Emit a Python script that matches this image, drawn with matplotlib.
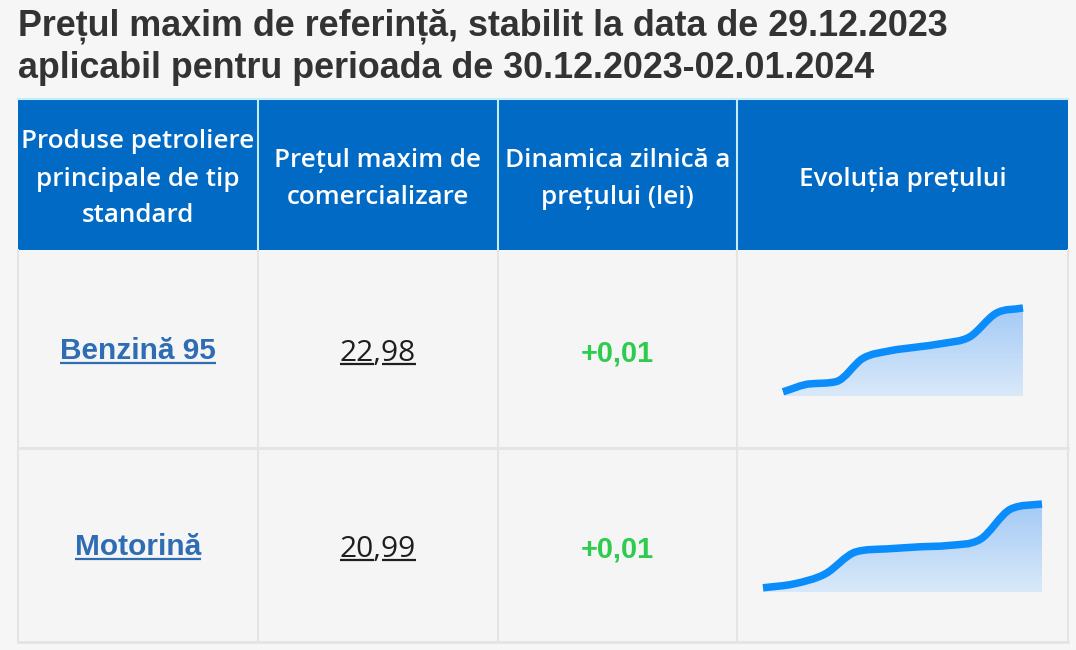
import numpy as np
import matplotlib
matplotlib.use("Agg")
import matplotlib.pyplot as plt
from matplotlib.path import Path
from matplotlib.patches import PathPatch, Rectangle
from matplotlib.colors import LinearSegmentedColormap

# ---- data ----
title_lines = ["Prețul maxim de referință, stabilit la data de 29.12.2023",
               "aplicabil pentru perioada de 30.12.2023-02.01.2024"]
headers = [["Produse petroliere", "principale de tip", "standard"],
           ["Prețul maxim de", "comercializare"],
           ["Dinamica zilnică a", "prețului (lei)"],
           ["Evoluția prețului"]]
products = ["Benzină 95", "Motorină"]
prices = ["22,98", "20,99"]
changes = ["+0,01", "+0,01"]
# price history, estimated from the sparklines
benzina_hist = [22.800, 22.817, 22.822, 22.872, 22.888, 22.896, 22.904, 22.918, 22.969, 22.980]
motorina_hist = [20.820, 20.828, 20.848, 20.893, 20.899, 20.903, 20.906, 20.918, 20.980, 20.990]
histories = [benzina_hist, motorina_hist]

# ---- layout (pixels) ----
W, H = 1076, 650
col_x = [18, 258, 498, 737, 1068]
row_y = [99, 250, 448, 642]
spark_boxes = [(783, 1023, 308, 396), (763, 1042, 504, 592)]  # left, right, top, bottom

BLUE_HEAD = "#006ac4"
HEAD_LINE = "#c6ecfa"
CELL_BG = "#f5f5f5"
GRID = "#e4e4e4"
LINK = "#2e6db4"
GREEN = "#2dcb4e"
LINE_BLUE = "#0a8cfb"

fig = plt.figure(figsize=(W / 100, H / 100), dpi=100)
fig.patch.set_facecolor("#f6f6f6")
ax = fig.add_axes([0, 0, 1, 1])
ax.set_xlim(0, W)
ax.set_ylim(H, 0)
ax.axis("off")
fig.canvas.draw()
renderer = fig.canvas.get_renderer()


def text_width(s, size, **kw):
    t = ax.text(0, 0, s, fontsize=size, **kw)
    w = t.get_window_extent(renderer).width
    t.remove()
    return w


def fit_size(s, target, **kw):
    return 20 * target / text_width(s, 20, **kw)


# title
title_kw = dict(family="Liberation Sans", weight="bold", color="#333333")
ts = fit_size(title_lines[0], 932, **title_kw)
for line, yb in zip(title_lines, [36, 78]):
    ax.text(18, yb, line, fontsize=ts, ha="left", va="baseline", **title_kw)

# header cells
ax.add_patch(Rectangle((col_x[0], row_y[0]), col_x[-1] - col_x[0], row_y[1] - row_y[0],
                       facecolor=BLUE_HEAD, edgecolor="none"))
for x in col_x[1:-1]:
    ax.plot([x, x], [row_y[0], row_y[1]], color=HEAD_LINE, lw=1.5)
ax.plot([col_x[0], col_x[-1]], [row_y[0], row_y[0]], color=HEAD_LINE, lw=1.5)

head_kw = dict(family=["Open Sans SemiBold", "Open Sans"], weight="semibold", color="white")
hs = fit_size("Produse petroliere", 232, **head_kw)
for i, lines in enumerate(headers):
    cx = (col_x[i] + col_x[i + 1]) / 2
    n = len(lines)
    for k, line in enumerate(lines):
        yb = 176 + (k - (n - 1) / 2) * 37 + 9.5
        ax.text(cx, yb, line, fontsize=hs, ha="center", va="baseline", **head_kw)

# body cells and grid
ax.add_patch(Rectangle((col_x[0], row_y[1]), col_x[-1] - col_x[0], row_y[-1] - row_y[1],
                       facecolor=CELL_BG, edgecolor="none"))
for x in col_x:
    ax.plot([x, x], [row_y[1], row_y[-1]], color=GRID, lw=1.5)
for y in row_y[2:]:
    ax.plot([col_x[0], col_x[-1]], [y, y], color=GRID, lw=2)

link_kw = dict(family="Liberation Sans", weight="bold", color=LINK)
num_kw = dict(family="Open Sans", color="#1e1e1e")
chg_kw = dict(family="Liberation Sans", weight="bold", color=GREEN)
ls = fit_size("Benzină 95", 156, **link_kw)
ns = fit_size("22,98", 76, **num_kw)
cs = fit_size("+0,01", 73, **chg_kw)


def smooth_path(x, y):
    # cubic bezier through the points, tangents limited so the curve stays monotone
    x = np.asarray(x, float)
    y = np.asarray(y, float)
    h = np.diff(x)
    d = np.diff(y) / h
    m = np.zeros_like(y)
    m[0], m[-1] = d[0], d[-1]
    m[1:-1] = (d[:-1] + d[1:]) / 2
    for i in range(len(d)):
        if d[i] == 0:
            m[i] = m[i + 1] = 0
            continue
        a, b = m[i] / d[i], m[i + 1] / d[i]
        s = a * a + b * b
        if s > 9:
            tau = 3 / np.sqrt(s)
            m[i], m[i + 1] = tau * a * d[i], tau * b * d[i]
    verts = [(x[0], y[0])]
    codes = [Path.MOVETO]
    for i in range(len(h)):
        verts += [(x[i] + h[i] / 3, y[i] + m[i] * h[i] / 3),
                  (x[i + 1] - h[i] / 3, y[i + 1] - m[i + 1] * h[i] / 3),
                  (x[i + 1], y[i + 1])]
        codes += [Path.CURVE4] * 3
    return verts, codes


grad = LinearSegmentedColormap.from_list("g", ["#d9e9f9", "#a4caf5"])

for r in range(2):
    yc = (row_y[r + 1] + row_y[r + 2]) / 2
    base = yc + 10

    # product link
    t = ax.text((col_x[0] + col_x[1]) / 2, base, products[r], fontsize=ls,
                ha="center", va="baseline", **link_kw)
    bb = t.get_window_extent(renderer)
    ax.plot([bb.x0, bb.x1], [base + 3.8, base + 3.8], color=LINK, lw=1.6,
            solid_capstyle="butt")

    # price with underlined digit groups
    pb = base + 1.7
    t = ax.text((col_x[1] + col_x[2]) / 2, pb, prices[r], fontsize=ns,
                ha="center", va="baseline", **num_kw)
    bb = t.get_window_extent(renderer)
    whole, frac = prices[r].split(",")
    w1 = text_width(whole, ns, **num_kw)
    w2 = text_width(whole + ",", ns, **num_kw)
    for a, b in [(bb.x0, bb.x0 + w1), (bb.x0 + w2, bb.x1)]:
        ax.plot([a, b], [pb + 3.2, pb + 3.2], color="#1e1e1e", lw=1.6, solid_capstyle="butt")

    # daily change
    ax.text((col_x[2] + col_x[3]) / 2, base + 2, changes[r], fontsize=cs,
            ha="center", va="baseline", **chg_kw)

    # sparkline
    vals = histories[r]
    l, rr, tp, bt = spark_boxes[r]
    sax = fig.add_axes([l / W, 1 - bt / H, (rr - l) / W, (bt - tp) / H])
    sax.axis("off")
    n = len(vals)
    xs = np.arange(n)
    lo = min(vals) - 0.05 * (max(vals) - min(vals))
    hi = max(vals)
    sax.set_xlim(0, n - 1)
    sax.set_ylim(lo, hi)
    verts, codes = smooth_path(xs, vals)
    area = Path(verts + [(n - 1, lo), (0, lo), (0, vals[0])],
                codes + [Path.LINETO, Path.LINETO, Path.CLOSEPOLY])
    clip = PathPatch(area, facecolor="none", edgecolor="none", transform=sax.transData)
    sax.add_patch(clip)
    im = sax.imshow(np.linspace(0, 1, 256).reshape(-1, 1), cmap=grad, aspect="auto",
                    extent=[0, n - 1, lo, hi], origin="lower")
    im.set_clip_path(clip)
    sax.add_patch(PathPatch(Path(verts, codes), facecolor="none", edgecolor=LINE_BLUE,
                            lw=5.4, capstyle="butt", joinstyle="round", clip_on=False))

fig.savefig("out.png", dpi=100, facecolor=fig.get_facecolor())
